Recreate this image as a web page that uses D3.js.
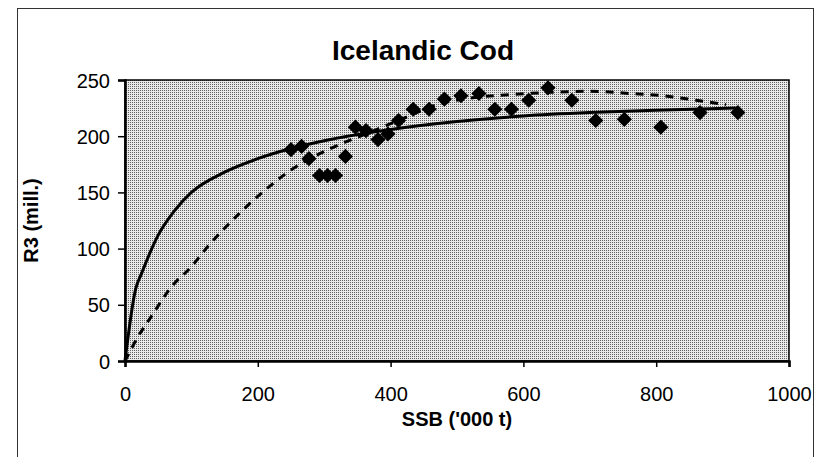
<!DOCTYPE html>
<html><head><meta charset="utf-8">
<script src="https://cdn.jsdelivr.net/npm/d3@7"></script>
<style>html,body{margin:0;padding:0;background:#fff;}svg{display:block;font-family:"Liberation Sans",Arial,sans-serif;}</style>
</head><body><svg id="c" width="817" height="457"></svg>
<script>
// Observed stock-recruitment points (SSB '000 t, R3 mill.)
const ssb = [250,266,277,293,305,317,332,347,363,381,396,412,434,458,481,506,533,557,582,608,637,673,709,752,807,866,923];
const r3  = [188,191,180,165,165,165,182,208,205,197,202,214,224,224,233,236,238,224,224,232,243,232,214,215,208,221,221];
// Solid fitted curve
const solidS = [0,16,25,50,75,100,150,200,250,300,400,500,600,700,800,920];
const solidR = [0,64,78,112,134,150,168,180,189,196,206,213,218,221,223,225];
// Dashed fitted curve
const dashS = [0,20,40,70,100,125,170,215,250,285,325,375,420,470,520,580,640,700,760,810,860,905];
const dashR = [0,22,40,66,84,102,130,154,170,182,193,205,216,228,234,237,239,240,238,236,232,228];
const xTicks = [0,200,400,600,800,1000];
const yTicks = [0,50,100,150,200,250];
const title = "Icelandic Cod", xTitle = "SSB ('000 t)", yTitle = "R3 (mill.)";

const svg = d3.select("#c");
const X0=125, X1=789, Y0=361, Y1=80;
const x = d3.scaleLinear().domain([0,1000]).range([X0,X1]);
const y = d3.scaleLinear().domain([0,250]).range([Y0,Y1]);

// outer frame
svg.append("rect").attr("x",17.5).attr("y",8.5).attr("width",796).attr("height",470)
  .attr("fill","none").attr("stroke","#333").attr("stroke-width",1);

// halftone pattern
const defs = svg.append("defs");
const pat = defs.append("pattern").attr("id","ht").attr("width",2).attr("height",2).attr("patternUnits","userSpaceOnUse");
pat.append("rect").attr("width",2).attr("height",2).attr("fill","#e9e9e9");
pat.append("rect").attr("width",1).attr("height",1).attr("fill","#626262");

svg.append("rect").attr("x",X0).attr("y",Y1).attr("width",X1-X0).attr("height",Y0-Y1)
  .attr("fill","url(#ht)").attr("stroke","#000").attr("stroke-width",1.5);

// axes
const xa = svg.append("g").attr("transform",`translate(0,${Y0})`)
  .call(d3.axisBottom(x).tickValues(xTicks).tickSize(6).tickPadding(20).tickFormat(d3.format("d")));
const ya = svg.append("g").attr("transform",`translate(${X0},0)`)
  .call(d3.axisLeft(y).tickValues(yTicks).tickSize(7).tickPadding(8).tickFormat(d3.format("d")));
[xa,ya].forEach(g=>{
  g.select(".domain").attr("stroke","#000").attr("stroke-width",2.5);
  g.selectAll(".tick line").attr("stroke","#000").attr("stroke-width",1.5);
  g.selectAll(".tick text").attr("fill","#000").attr("font-size",20).attr("font-family","Liberation Sans, Arial, sans-serif");
});
ya.selectAll(".tick text").attr("dy","0.35em");
xa.selectAll(".tick text").attr("dy","0.71em");

// curves
const solid = solidS.map((s,i)=>[s,solidR[i]]);
const dash = dashS.map((s,i)=>[s,dashR[i]]);
const line = d3.line().x(d=>x(d[0])).y(d=>y(d[1])).curve(d3.curveMonotoneX);
svg.append("path").datum(dash).attr("d",line).attr("fill","none").attr("stroke","#000")
  .attr("stroke-width",3).attr("stroke-dasharray","8,7");
svg.append("path").datum(solid).attr("d",line).attr("fill","none").attr("stroke","#000")
  .attr("stroke-width",3);

// points
const pts = ssb.map((s,i)=>[s,r3[i]]);
svg.append("g").selectAll("path").data(pts).join("path")
  .attr("transform",d=>`translate(${x(d[0])},${y(d[1])}) rotate(45)`)
  .attr("d",d3.symbol().type(d3.symbolSquare).size(115)).attr("fill","#000");

// titles
svg.append("text").attr("x",423).attr("y",50).attr("text-anchor","middle").attr("dominant-baseline","central")
  .attr("font-size",28).attr("font-weight","bold").text(title);
svg.append("text").attr("x",(X0+X1)/2).attr("y",419).attr("text-anchor","middle").attr("dominant-baseline","central")
  .attr("font-size",20).attr("font-weight","bold").text(xTitle);
svg.append("text").attr("transform",`translate(31,${(Y0+Y1)/2}) rotate(-90)`).attr("text-anchor","middle")
  .attr("dominant-baseline","central").attr("font-size",20).attr("font-weight","bold").text(yTitle);
</script></body></html>
